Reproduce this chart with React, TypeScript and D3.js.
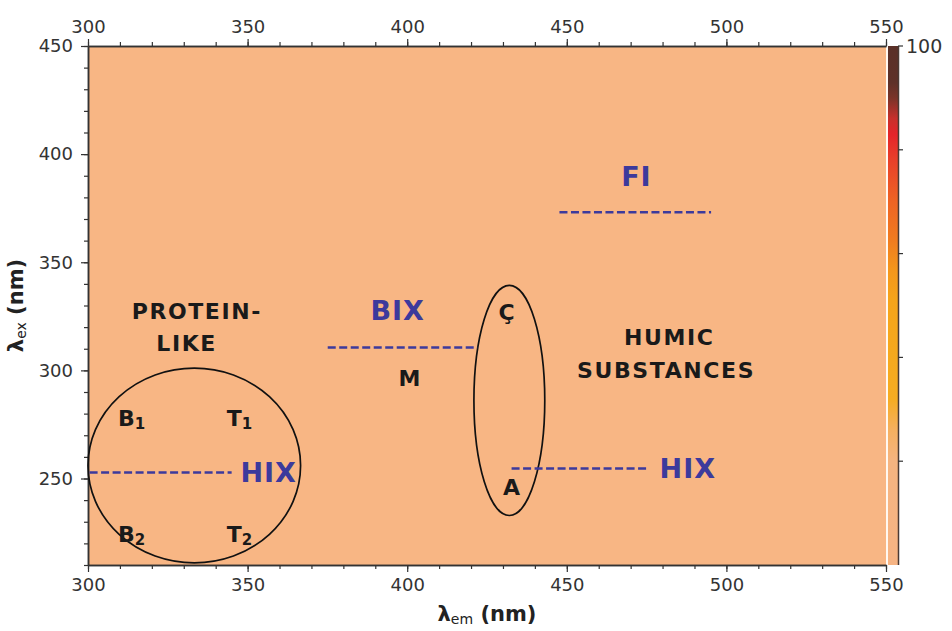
import React, { useRef, useEffect } from "react";
import * as d3 from "d3";

// axis ticks
const EM_MAJOR = [300, 350, 400, 450, 500, 550];
const EM_MINOR = d3.range(300, 551, 10);
const EX_MAJOR = [250, 300, 350, 400, 450];
const EX_MINOR = d3.range(210, 451, 10);
const CB_TICKS = [20, 40, 60, 80, 100];
const CB_LABELS = [100];

// colour map (value -> colour)
const CMAP_VALUES = [0, 20, 26, 32, 51, 57, 63, 70, 78, 83, 86, 90, 93, 100];
const CMAP_COLORS = [
  "#f6b484", "#f5b480", "#f5b060", "#f5ac22", "#f5a41a", "#f4961c", "#f07a20",
  "#ee6424", "#e8402a", "#e4242a", "#c8302c", "#7a3429", "#5e3128", "#5a3028",
];

// fluorescence index lines (em start, em end, ex)
const INDEX_LINES: [number, number, number][] = [
  [300.5, 345, 252.8],
  [375.1, 422, 310.6],
  [432.7, 475.2, 254.6],
  [447.7, 495.2, 373.1],
];
const INDEX_LABELS = ["HIX", "BIX", "HIX", "FI"];
const INDEX_POS: [number, number][] = [
  [356.6, 252.8],
  [397, 327.8],
  [487.9, 254.6],
  [471.8, 389.8],
];

// peak labels
const PEAK_NAMES = ["B", "T", "B", "T"];
const PEAK_SUBS = ["1", "1", "2", "2"];
const PEAK_POS: [number, number][] = [
  [309.4, 277.8],
  [343.5, 277.8],
  [309.4, 224.5],
  [343.5, 224.5],
];
const SINGLE_NAMES = ["M", "Ç", "A"];
const SINGLE_POS: [number, number][] = [
  [400.7, 296.3],
  [431.1, 326.9],
  [432.7, 245.8],
];

// region labels
const REGION_TEXT = ["PROTEIN-", "LIKE", "HUMIC", "SUBSTANCES"];
const REGION_POS: [number, number][] = [
  [334.1, 327.3],
  [330.9, 312.5],
  [482.1, 315.3],
  [481.1, 300],
];

// ellipses: center em, center ex, radius em, radius ex
const ELLIPSES: [number, number, number, number][] = [
  [333.3, 256, 33.3, 45],
  [432, 286.1, 11.1, 53.2],
];

const W = 952;
const H = 631;
const FONT = '"DejaVu Sans", Verdana, sans-serif';

const App: React.FC = () => {
  const svgRef = useRef<SVGSVGElement | null>(null);

  useEffect(() => {
    if (!svgRef.current) return;
    const svg = d3.select(svgRef.current);
    svg.selectAll("*").remove();

    const left = 88, right = 886, top = 46, bottom = 565;
    const x = d3.scaleLinear().domain([300, 550]).range([left, right]);
    const y = d3.scaleLinear().domain([210, 450]).range([bottom, top]);

    // heatmap background (uniform, lowest intensity)
    svg.append("rect")
      .attr("x", left).attr("y", top)
      .attr("width", right - left).attr("height", bottom - top)
      .attr("fill", "#f8b684");

    // colour bar
    const cbX = 888, cbW = 10;
    const cb = d3.scaleLinear().domain([0, 100]).range([bottom, top]);
    const defs = svg.append("defs");
    const grad = defs.append("linearGradient")
      .attr("id", "cbgrad").attr("x1", 0).attr("y1", 1).attr("x2", 0).attr("y2", 0);
    CMAP_VALUES.forEach((v, i) => {
      grad.append("stop").attr("offset", `${v}%`).attr("stop-color", CMAP_COLORS[i]);
    });
    svg.append("rect")
      .attr("x", cbX).attr("y", top).attr("width", cbW).attr("height", bottom - top)
      .attr("fill", "url(#cbgrad)");
    svg.append("line")
      .attr("x1", cbX + cbW + 0.5).attr("x2", cbX + cbW + 0.5)
      .attr("y1", top).attr("y2", bottom)
      .attr("stroke", "#4a3a34").attr("stroke-width", 1.5);
    svg.append("line")
      .attr("x1", right + 1).attr("x2", right + 1)
      .attr("y1", top).attr("y2", bottom)
      .attr("stroke", "#fff6ec").attr("stroke-width", 1.5);
    svg.selectAll(".cbtick")
      .data(CB_TICKS)
      .join("line")
      .attr("x1", cbX + cbW).attr("x2", cbX + cbW + 5)
      .attr("y1", (d) => cb(d)).attr("y2", (d) => cb(d))
      .attr("stroke", "#333").attr("stroke-width", 1.2);
    svg.selectAll(".cblab")
      .data(CB_LABELS)
      .join("text")
      .attr("x", cbX + cbW + 8).attr("y", (d) => cb(d))
      .attr("dominant-baseline", "central")
      .attr("font-family", FONT).attr("font-size", 19).attr("fill", "#333")
      .text((d) => d);

    // axes
    const styleAxis = (g: d3.Selection<SVGGElement, unknown, null, undefined>) => {
      g.selectAll("path").attr("stroke", "#333").attr("stroke-width", 1.5);
      g.selectAll("line").attr("stroke", "#333").attr("stroke-width", 1.2);
      g.selectAll("text").attr("font-family", FONT).attr("font-size", 18).attr("fill", "#333");
    };

    const topMinor = svg.append("g").attr("transform", `translate(0,${top})`)
      .call(d3.axisTop(x).tickValues(EM_MINOR).tickSize(4).tickSizeOuter(0).tickFormat(() => ""));
    styleAxis(topMinor);
    const topMajor = svg.append("g").attr("transform", `translate(0,${top})`)
      .call(d3.axisTop(x).tickValues(EM_MAJOR).tickSize(7).tickSizeOuter(0).tickPadding(6).tickFormat(d3.format("d")));
    styleAxis(topMajor);

    const botMinor = svg.append("g").attr("transform", `translate(0,${bottom})`)
      .call(d3.axisBottom(x).tickValues(EM_MINOR).tickSize(4).tickSizeOuter(0).tickFormat(() => ""));
    styleAxis(botMinor);
    const botMajor = svg.append("g").attr("transform", `translate(0,${bottom})`)
      .call(d3.axisBottom(x).tickValues(EM_MAJOR).tickSize(7).tickSizeOuter(0).tickPadding(6).tickFormat(d3.format("d")));
    styleAxis(botMajor);

    const leftMinor = svg.append("g").attr("transform", `translate(${left},0)`)
      .call(d3.axisLeft(y).tickValues(EX_MINOR).tickSize(4).tickSizeOuter(0).tickFormat(() => ""));
    styleAxis(leftMinor);
    const leftMajor = svg.append("g").attr("transform", `translate(${left},0)`)
      .call(d3.axisLeft(y).tickValues(EX_MAJOR).tickSize(7).tickSizeOuter(0).tickPadding(8).tickFormat(d3.format("d")));
    styleAxis(leftMajor);

    // axis titles
    const xt = svg.append("text")
      .attr("x", (left + right) / 2).attr("y", 621)
      .attr("text-anchor", "middle")
      .attr("font-family", FONT).attr("font-size", 21).attr("font-weight", 700).attr("fill", "#222");
    xt.append("tspan").text("λ");
    xt.append("tspan").attr("font-size", 14).attr("font-weight", 400).attr("dy", 3).text("em");
    xt.append("tspan").attr("dy", -3).text(" (nm)");

    const yt = svg.append("text")
      .attr("transform", `translate(23,${(top + bottom) / 2}) rotate(-90)`)
      .attr("text-anchor", "middle")
      .attr("font-family", FONT).attr("font-size", 21).attr("font-weight", 700).attr("fill", "#222");
    yt.append("tspan").text("λ");
    yt.append("tspan").attr("font-size", 14).attr("font-weight", 400).attr("dy", 3).text("ex");
    yt.append("tspan").attr("dy", -3).text(" (nm)");

    // ellipses
    svg.selectAll(".ell")
      .data(ELLIPSES)
      .join("ellipse")
      .attr("cx", (d) => x(d[0])).attr("cy", (d) => y(d[1]))
      .attr("rx", (d) => x(d[0] + d[2]) - x(d[0]))
      .attr("ry", (d) => y(d[1] - d[3]) - y(d[1]))
      .attr("fill", "none").attr("stroke", "#111").attr("stroke-width", 1.7);

    // index lines
    svg.selectAll(".idx")
      .data(INDEX_LINES)
      .join("line")
      .attr("x1", (d) => x(d[0])).attr("x2", (d) => x(d[1]))
      .attr("y1", (d) => y(d[2])).attr("y2", (d) => y(d[2]))
      .attr("stroke", "#3c3a9c").attr("stroke-width", 2.6)
      .attr("stroke-dasharray", "8,3.5");

    svg.selectAll(".idxlab")
      .data(INDEX_LABELS)
      .join("text")
      .attr("x", (_, i) => x(INDEX_POS[i][0])).attr("y", (_, i) => y(INDEX_POS[i][1]))
      .attr("text-anchor", "middle").attr("dominant-baseline", "central")
      .attr("font-family", FONT).attr("font-size", 27).attr("font-weight", 700)
      .attr("letter-spacing", 1)
      .attr("fill", "#3c3a9c")
      .text((d) => d);

    // peaks with subscripts
    PEAK_NAMES.forEach((n, i) => {
      const t = svg.append("text")
        .attr("x", x(PEAK_POS[i][0])).attr("y", y(PEAK_POS[i][1]))
        .attr("dominant-baseline", "central")
        .attr("font-family", FONT).attr("font-size", 22).attr("font-weight", 700)
        .attr("fill", "#1a1a1a");
      t.append("tspan").text(n);
      t.append("tspan").attr("font-size", 15).attr("dy", 6).text(PEAK_SUBS[i]);
    });

    svg.selectAll(".peak")
      .data(SINGLE_NAMES)
      .join("text")
      .attr("x", (_, i) => x(SINGLE_POS[i][0])).attr("y", (_, i) => y(SINGLE_POS[i][1]))
      .attr("text-anchor", "middle").attr("dominant-baseline", "central")
      .attr("font-family", FONT).attr("font-size", 22).attr("font-weight", 700)
      .attr("fill", "#1a1a1a")
      .text((d) => d);

    svg.selectAll(".region")
      .data(REGION_TEXT)
      .join("text")
      .attr("x", (_, i) => x(REGION_POS[i][0])).attr("y", (_, i) => y(REGION_POS[i][1]))
      .attr("text-anchor", "middle").attr("dominant-baseline", "central")
      .attr("font-family", FONT).attr("font-size", 22).attr("font-weight", 700)
      .attr("letter-spacing", 1.6)
      .attr("fill", "#1a1a1a")
      .text((d) => d);
  }, []);

  return (
    <svg
      ref={svgRef}
      width={W}
      height={H}
      style={{ position: "absolute", left: 0, top: 0, background: "#fff", display: "block" }}
    />
  );
};

export default App;
